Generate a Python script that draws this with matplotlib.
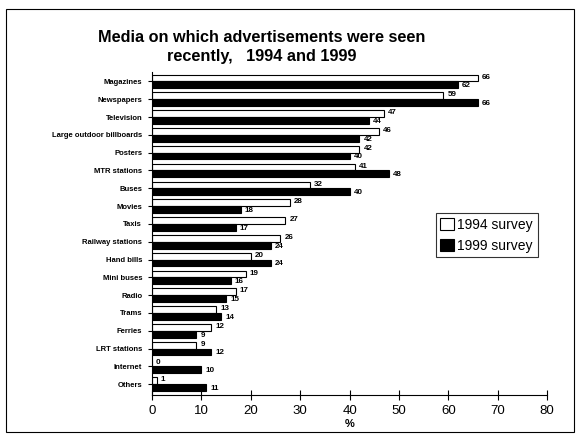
import matplotlib
matplotlib.use("Agg")
import matplotlib.pyplot as plt
from matplotlib.patches import Rectangle
from matplotlib import font_manager
import numpy as np

categories = ["Magazines", "Newspapers", "Television", "Large outdoor billboards",
              "Posters", "MTR stations", "Buses", "Movies", "Taxis", "Railway stations",
              "Hand bills", "Mini buses", "Radio", "Trams", "Ferries", "LRT stations",
              "Internet", "Others"]
survey_1994 = [66, 59, 47, 46, 42, 41, 32, 28, 27, 26, 20, 19, 17, 13, 12, 9, 0, 1]
survey_1999 = [62, 66, 44, 42, 40, 48, 40, 18, 17, 24, 24, 16, 15, 14, 9, 12, 10, 11]
x_ticks = [0, 10, 20, 30, 40, 50, 60, 70, 80]

plt.rcParams['font.family'] = ['Liberation Sans', 'DejaVu Sans']
names = {f.name for f in font_manager.fontManager.ttflist}
narrow = 'Liberation Sans Narrow' if 'Liberation Sans Narrow' in names else 'Liberation Sans'
lab_size = 6.5 if narrow == 'Liberation Sans Narrow' else 5.5

fig = plt.figure(figsize=(5.77, 4.34), dpi=100)
ax = fig.add_axes([0.2634, 0.09, 0.685, 0.745])

n = len(categories)
y = np.arange(n)
h = 0.38
ax.barh(y - h / 2, survey_1994, height=h, color="white", edgecolor="black", linewidth=0.8,
        label="1994 survey")
ax.barh(y + h / 2, survey_1999, height=h, color="black", edgecolor="black", linewidth=0.8,
        label="1999 survey")

for i in range(n):
    ax.text(survey_1994[i] + 0.8, y[i] - h / 2 - 0.05, str(survey_1994[i]), fontsize=5.8,
            va="center", ha="left", fontweight="bold", family=narrow)
    ax.text(survey_1999[i] + 0.8, y[i] + h / 2 + 0.05, str(survey_1999[i]), fontsize=5.8,
            va="center", ha="left", fontweight="bold", family=narrow)

ax.set_ylim(n - 0.5 + 0.1, -0.55)
ax.set_xlim(0, 80)
ax.set_yticks(y)
ax.set_yticklabels(categories, fontsize=lab_size, fontweight="bold", family=narrow)
ax.set_xticks(x_ticks)
ax.set_xticklabels([str(t) for t in x_ticks], fontsize=9.5)
ax.tick_params(axis="x", direction="inout", length=7, width=0.8, pad=4)
ax.tick_params(axis="y", length=3, width=0.8, pad=4)
for s in ["top", "right"]:
    ax.spines[s].set_visible(False)
ax.set_xlabel("%", fontsize=8, fontweight="bold", labelpad=1)

fig.text(262 / 577, 1 - 47 / 434, "Media on which advertisements were seen\nrecently,   1994 and 1999",
         fontsize=11.7, fontweight="bold", ha="center", va="center", linespacing=1.25)

leg = ax.legend(loc="upper left", bbox_to_anchor=(0.70, 0.585), fontsize=10,
                frameon=True, fancybox=False, edgecolor="black", handlelength=1.0,
                handleheight=0.9, handletextpad=0.2, borderpad=0.35, labelspacing=0.5)
leg.get_frame().set_linewidth(0.8)

fig.patches.append(Rectangle((0.01, 0.005), 0.985, 0.975, transform=fig.transFigure,
                             fill=False, edgecolor="black", linewidth=0.8))

fig.savefig("out.png", dpi=100)
